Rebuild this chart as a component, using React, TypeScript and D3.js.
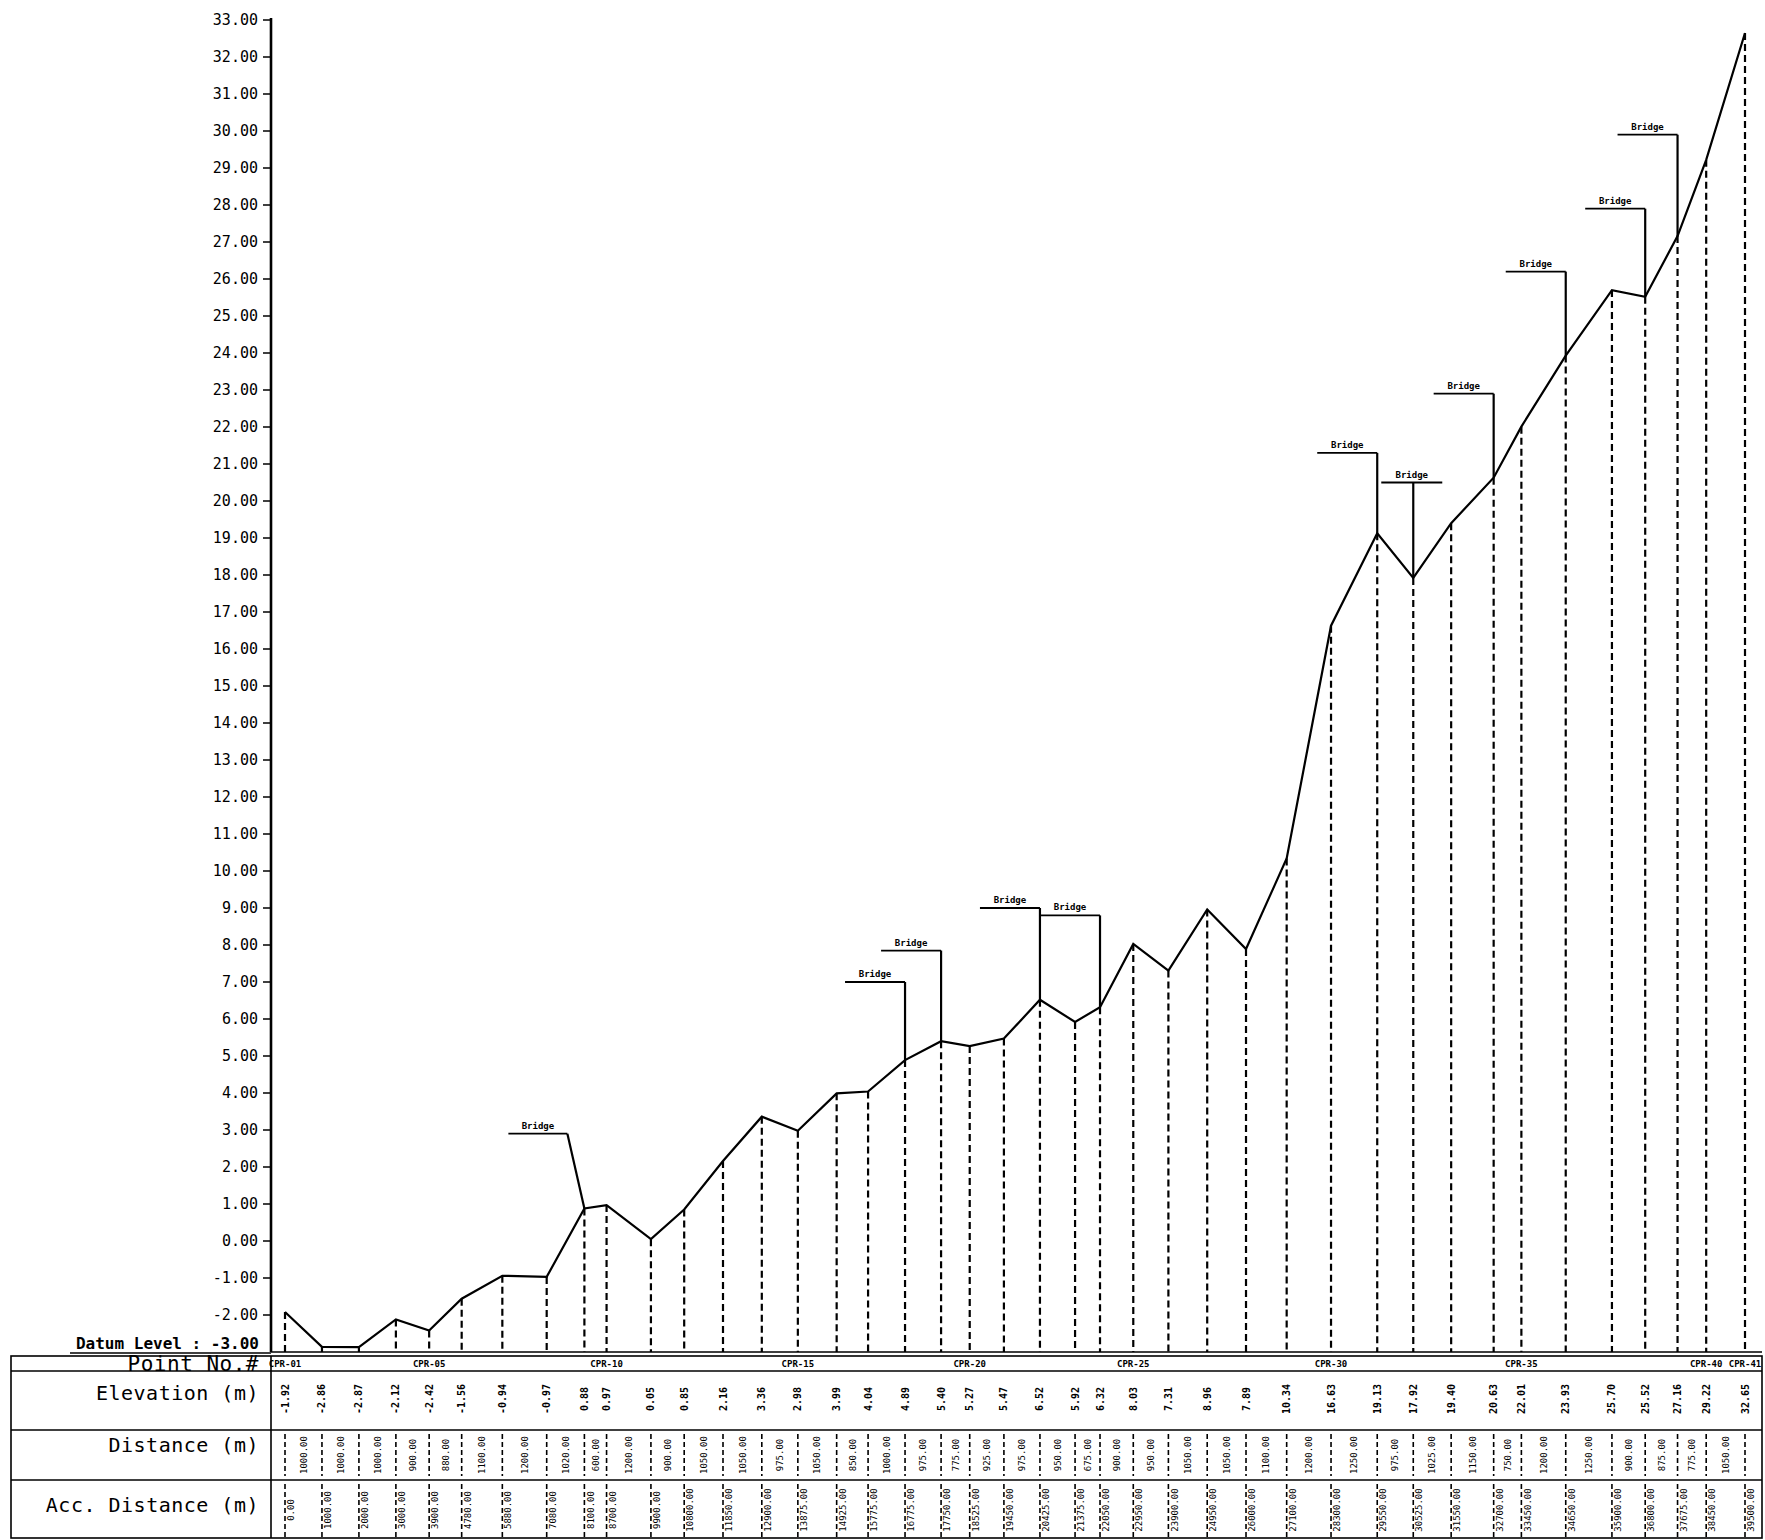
import React from 'react';
import * as d3 from 'd3';

// survey points along the route
const pointIds = [
  'CPR-01', 'CPR-02', 'CPR-03', 'CPR-04', 'CPR-05', 'CPR-06', 'CPR-07', 'CPR-08', 'CPR-09', 'CPR-10',
  'CPR-11', 'CPR-12', 'CPR-13', 'CPR-14', 'CPR-15', 'CPR-16', 'CPR-17', 'CPR-18', 'CPR-19', 'CPR-20',
  'CPR-21', 'CPR-22', 'CPR-23', 'CPR-24', 'CPR-25', 'CPR-26', 'CPR-27', 'CPR-28', 'CPR-29', 'CPR-30',
  'CPR-31', 'CPR-32', 'CPR-33', 'CPR-34', 'CPR-35', 'CPR-36', 'CPR-37', 'CPR-38', 'CPR-39', 'CPR-40',
  'CPR-41',
];
const elevation = [
  -1.92, -2.86, -2.87, -2.12, -2.42, -1.56, -0.94, -0.97, 0.88, 0.97,
  0.05, 0.85, 2.16, 3.36, 2.98, 3.99, 4.04, 4.89, 5.4, 5.27,
  5.47, 6.52, 5.92, 6.32, 8.03, 7.31, 8.96, 7.89, 10.34, 16.63,
  19.13, 17.92, 19.4, 20.63, 22.01, 23.93, 25.7, 25.52, 27.16, 29.22,
  32.65,
];
const distance = [
  1000, 1000, 1000, 900, 880, 1100, 1200, 1020, 600, 1200,
  900, 1050, 1050, 975, 1050, 850, 1000, 975, 775, 925,
  975, 950, 675, 900, 950, 1050, 1050, 1100, 1200, 1250,
  975, 1025, 1150, 750, 1200, 1250, 900, 875, 775, 1050,
];
const accDistance = [
  0, 1000, 2000, 3000, 3900, 4780, 5880, 7080, 8100, 8700,
  9900, 10800, 11850, 12900, 13875, 14925, 15775, 16775, 17750, 18525,
  19450, 20425, 21375, 22050, 22950, 23900, 24950, 26000, 27100, 28300,
  29550, 30525, 31550, 32700, 33450, 34650, 35900, 36800, 37675, 38450,
  39500,
];
const labelledPoints = ['CPR-01', 'CPR-05', 'CPR-10', 'CPR-15', 'CPR-20', 'CPR-25', 'CPR-30', 'CPR-35', 'CPR-40', 'CPR-41'];
const yTickValues = [
  -2, -1, 0, 1, 2, 3, 4, 5, 6, 7, 8, 9, 10, 11, 12, 13, 14, 15, 16, 17,
  18, 19, 20, 21, 22, 23, 24, 25, 26, 27, 28, 29, 30, 31, 32, 33,
];
// bridges: point they mark, elevation of the label line, leader style
const bridgeAt = ['CPR-09', 'CPR-18', 'CPR-19', 'CPR-22', 'CPR-24', 'CPR-31', 'CPR-32', 'CPR-34', 'CPR-36', 'CPR-38', 'CPR-39'];
const bridgeLevel = [2.9, 7.0, 7.85, 9.0, 8.8, 21.3, 20.5, 22.9, 26.2, 27.9, 29.9];
const bridgeLeader = ['slant', 'left', 'left', 'left', 'left', 'left', 'center', 'left', 'left', 'left', 'left'];
const rowLabels = ['Point No.#', 'Elevation (m)', 'Distance (m)', 'Acc. Distance (m)'];

const W = 1765;
const H = 1540;
const FONT = "'DejaVu Sans Mono', monospace";

export default function App() {
  const axisX = 271;
  const x = d3.scaleLinear().domain([0, 39500]).range([285, 1745]);
  const y = d3.scaleLinear().domain([-3, 33]).range([1352, 20]);

  const tableLeft = 11;
  const tableRight = 1762;
  const rows = [1356, 1371, 1430, 1480, 1538]; // row borders
  const labelBase = [1371, 1400, 1452, 1512];

  const profile = d3
    .line<number>()
    .x((_, i) => x(accDistance[i]))
    .y((d) => y(d))(elevation);

  const dash = '7 4';

  return (
    <div style={{ position: 'absolute', left: 0, top: 0 }}>
      <svg width={W} height={H} style={{ display: 'block', background: '#fff' }} fontFamily={FONT}>
        {/* y axis */}
        <line x1={axisX} x2={axisX} y1={y(33) - 2} y2={y(-3)} stroke="#000" strokeWidth={2.6} />
        {yTickValues.map((v) => (
          <g key={v}>
            <line x1={axisX - 8} x2={axisX} y1={y(v)} y2={y(v)} stroke="#000" strokeWidth={1.5} />
            <text x={axisX - 13} y={y(v)} dy="0.35em" textAnchor="end" fontSize={15} fill="#000">
              {v.toFixed(2)}
            </text>
          </g>
        ))}

        {/* datum */}
        <text x={axisX - 12} y={y(-3) - 3} textAnchor="end" fontSize={16} fontWeight="bold" fill="#000">
          Datum Level : -3.00
        </text>
        <line x1={70} x2={axisX} y1={y(-3) + 1} y2={y(-3) + 1} stroke="#000" strokeWidth={1.6} />
        <line x1={axisX} x2={tableRight} y1={y(-3)} y2={y(-3)} stroke="#000" strokeWidth={1.6} />

        {/* drop lines */}
        {elevation.map((e, i) => (
          <line
            key={pointIds[i]}
            x1={x(accDistance[i])}
            x2={x(accDistance[i])}
            y1={y(e)}
            y2={y(-3)}
            stroke="#000"
            strokeWidth={2.2}
            strokeDasharray={dash}
          />
        ))}

        {/* profile */}
        <path d={profile ?? ''} fill="none" stroke="#000" strokeWidth={2.2} />

        {/* bridges */}
        {bridgeAt.map((id, k) => {
          const i = pointIds.indexOf(id);
          const px = x(accDistance[i]);
          const py = y(elevation[i]);
          const ly = y(bridgeLevel[k]);
          let x0 = px - 60;
          let x1 = px;
          if (bridgeLeader[k] === 'center') {
            x0 = px - 32;
            x1 = px + 29;
          } else if (bridgeLeader[k] === 'slant') {
            x0 = px - 76;
            x1 = px - 17;
          }
          const lx = bridgeLeader[k] === 'slant' ? x1 : px;
          return (
            <g key={id}>
              <line x1={x0} x2={x1} y1={ly} y2={ly} stroke="#000" strokeWidth={1.8} />
              <line x1={lx} x2={px} y1={ly} y2={py} stroke="#000" strokeWidth={2.2} />
              <text x={(x0 + x1) / 2} y={ly - 5} textAnchor="middle" fontSize={9} fontWeight="bold" fill="#000">
                Bridge
              </text>
            </g>
          );
        })}

        {/* table frame */}
        <rect x={tableLeft} y={rows[0]} width={tableRight - tableLeft} height={rows[4] - rows[0]} fill="none" stroke="#000" strokeWidth={1.6} />
        {rows.slice(1, 4).map((r) => (
          <line key={r} x1={tableLeft} x2={tableRight} y1={r} y2={r} stroke="#000" strokeWidth={1.4} />
        ))}
        <line x1={axisX} x2={axisX} y1={rows[0]} y2={rows[4]} stroke="#000" strokeWidth={1.6} />
        {rowLabels.map((t, r) => (
          <text key={t} x={259} y={labelBase[r]} textAnchor="end" fontSize={r === 0 ? 21 : 20} fill="#000" letterSpacing={0.5}>
            {t}
          </text>
        ))}

        {/* point numbers */}
        {pointIds.map((id, i) =>
          labelledPoints.includes(id) ? (
            <text key={id} x={x(accDistance[i])} y={1367} textAnchor="middle" fontSize={9} fontWeight="bold" fill="#000">
              {id}
            </text>
          ) : null
        )}

        {/* elevation row */}
        {elevation.map((e, i) => (
          <text
            key={pointIds[i]}
            transform={`translate(${x(accDistance[i])},1399) rotate(-90)`}
            textAnchor="middle"
            dy="0.35em"
            fontSize={10}
            fontWeight="bold"
            fill="#000"
          >
            {e.toFixed(2)}
          </text>
        ))}

        {/* distance row */}
        {accDistance.map((a, i) => (
          <line key={pointIds[i]} x1={x(a)} x2={x(a)} y1={1434} y2={1476} stroke="#000" strokeWidth={1.6} strokeDasharray="5 3" />
        ))}
        {distance.map((d, i) => (
          <text
            key={pointIds[i]}
            transform={`translate(${(x(accDistance[i]) + x(accDistance[i + 1])) / 2},1455) rotate(-90)`}
            textAnchor="middle"
            dy="0.35em"
            fontSize={9}
            fill="#000"
          >
            {d.toFixed(2)}
          </text>
        ))}

        {/* accumulated distance row */}
        {accDistance.map((a, i) => (
          <g key={pointIds[i]}>
            <line x1={x(a)} x2={x(a)} y1={1484} y2={1538} stroke="#000" strokeWidth={1.6} strokeDasharray="5 3" />
            <text
              transform={`translate(${x(a) + 6},1510) rotate(-90)`}
              textAnchor="middle"
              dy="0.35em"
              fontSize={9}
              fill="#000"
            >
              {a.toFixed(2)}
            </text>
          </g>
        ))}
      </svg>
    </div>
  );
}
